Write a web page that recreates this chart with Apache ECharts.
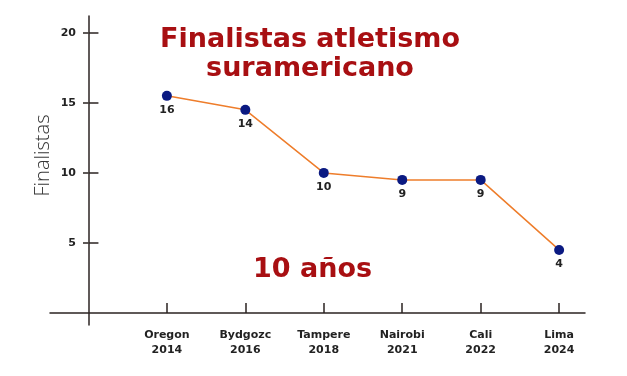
<!DOCTYPE html>
<html lang="es">
<head>
    <meta charset="UTF-8">
    <title>Finalistas atletismo suramericano</title>
    <script src="https://cdn.jsdelivr.net/npm/echarts@6.0.0/dist/echarts.min.js"></script>
    <style>
        html, body { margin: 0; padding: 0; background: #fff; }
    </style>
</head>
<body>
    <div id="main" style="width: 627px;height:376px;"></div>

    <script>
        // datos del grafico
        var sedes = ['Oregon', 'Bydgozc', 'Tampere', 'Nairobi', 'Cali', 'Lima'];
        var anios = ['2014', '2016', '2018', '2021', '2022', '2024'];
        var finalistas = [16, 14, 10, 9, 9, 4];          // etiqueta que se muestra
        var posicion = [15.5, 14.5, 10, 9.5, 9.5, 4.5];  // altura a la que esta dibujado el punto
        var yTicks = [5, 10, 15, 20];
        var xTicks = [1, 2, 3, 4, 5, 6];

        var puntos = posicion.map(function(v, i) {
            return [i + 1, v];
        });

        var fuente = '"DejaVu Sans", sans-serif';
        var fuenteNombre = '"Open Sans", sans-serif';
        var ejeColor = '#2b2322';

        var myChart = echarts.init(document.getElementById('main'));
        var option = {
            animation: false,
            backgroundColor: '#fff',
            title: {
                text: 'Finalistas atletismo\nsuramericano',
                left: 305,
                top: 20,
                textAlign: 'center',
                textStyle: {
                    fontFamily: fuente,
                    fontSize: 27,
                    fontWeight: 'bold',
                    color: '#a80f12',
                    lineHeight: 29,
                    align: 'center'
                }
            },
            graphic: [
                {
                    type: 'text',
                    left: 253,
                    top: 256,
                    style: {
                        text: '10 años',
                        font: 'bold 27px ' + fuente,
                        fill: '#a80f12'
                    }
                }
            ],
            grid: {
                left: 50,
                right: 42,
                top: 16,
                bottom: 51,
                outerBoundsMode: 'none'
            },
            xAxis: {
                type: 'value',
                min: -0.49,
                max: 6.33,
                splitLine: { show: false },
                axisLine: {
                    onZero: true,
                    lineStyle: { color: ejeColor, width: 1.5 }
                },
                axisTick: {
                    inside: true,
                    length: 10,
                    customValues: xTicks,
                    lineStyle: { color: ejeColor, width: 1.5 }
                },
                axisLabel: {
                    customValues: xTicks,
                    margin: 3,
                    fontFamily: fuente,
                    fontSize: 11,
                    fontWeight: 'bold',
                    color: '#222',
                    lineHeight: 15,
                    formatter: function(v) {
                        return sedes[v - 1] + '\n' + anios[v - 1];
                    }
                }
            },
            yAxis: [
                {
                    type: 'value',
                    min: -0.86,
                    max: 21.2,
                    name: 'Finalistas',
                    nameLocation: 'middle',
                    nameGap: -3,
                    nameMoveOverlap: false,
                    nameTextStyle: {
                        fontFamily: fuenteNombre,
                        fontSize: 20,
                        fontWeight: 300,
                        color: '#333',
                        padding: [0, 0, 0, 30]
                    },
                    splitLine: { show: false },
                    axisLine: {
                        onZero: true,
                        lineStyle: { color: ejeColor, width: 1.5 }
                    },
                    axisTick: {
                        inside: true,
                        length: 10,
                        customValues: yTicks,
                        lineStyle: { color: ejeColor, width: 1.5 }
                    },
                    axisLabel: {
                        customValues: yTicks,
                        margin: -26,
                        fontFamily: fuente,
                        fontSize: 11,
                        fontWeight: 'bold',
                        color: '#222'
                    }
                },
                {
                    // solo para la parte exterior de las marcas del eje
                    type: 'value',
                    position: 'left',
                    offset: -38,
                    min: -0.86,
                    max: 21.2,
                    splitLine: { show: false },
                    axisLine: {
                        onZero: false,
                        lineStyle: { color: ejeColor, width: 1.5, opacity: 0 }
                    },
                    axisTick: {
                        inside: false,
                        length: 5,
                        customValues: yTicks,
                        lineStyle: { color: ejeColor, width: 1.5 }
                    },
                    axisLabel: { show: false }
                }
            ],
            series: [
                {
                    name: 'Finalistas',
                    type: 'line',
                    data: puntos,
                    symbol: 'circle',
                    symbolSize: 10,
                    itemStyle: { color: '#0b1a82' },
                    lineStyle: { color: '#ee7d2b', width: 1.5 },
                    label: {
                        show: true,
                        position: 'bottom',
                        distance: 4,
                        fontFamily: fuente,
                        fontSize: 11,
                        fontWeight: 'bold',
                        color: '#222',
                        formatter: function(p) {
                            return finalistas[p.dataIndex];
                        }
                    },
                    z: 5
                }
            ]
        };

        myChart.setOption(option);
    </script>
</body>
</html>
